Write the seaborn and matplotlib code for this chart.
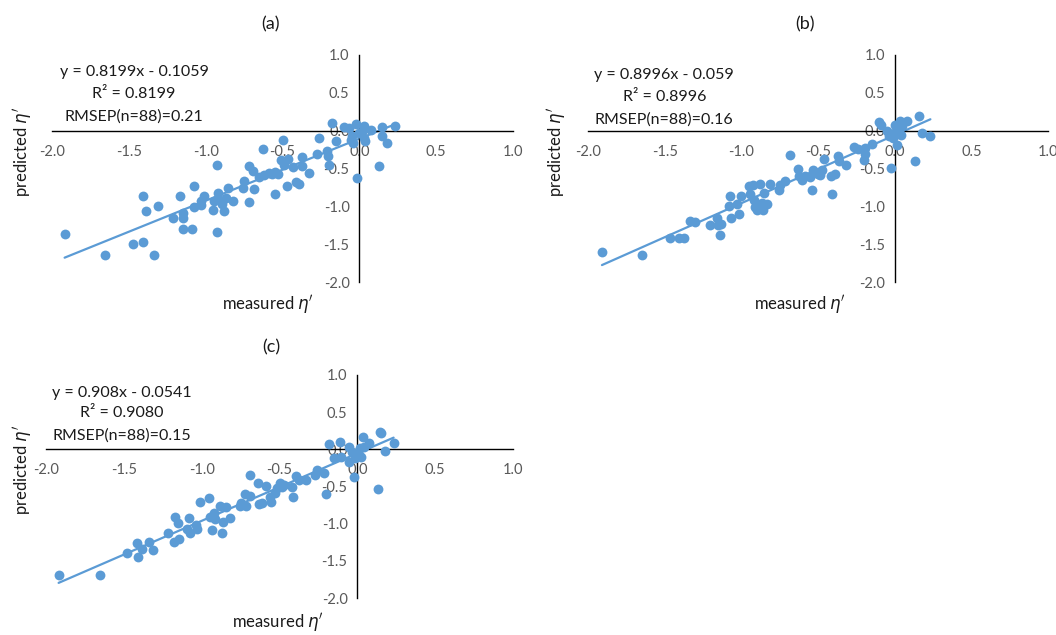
import numpy as np
import matplotlib
matplotlib.use("Agg")
import matplotlib.pyplot as plt
from matplotlib.ticker import FormatStrFormatter, MultipleLocator
import seaborn as sns

# panel (a) measured vs predicted
a_x = [-1.918, -1.652, -1.474, -1.409, -1.409, -1.387, -1.339, -1.311, -1.214, -1.166,
       -1.149, -1.149, -1.149, -1.090, -1.079, -1.073, -1.029, -1.008, -1.029, -0.954,
       -0.943, -0.928, -0.925, -0.921, -0.910, -0.893, -0.878, -0.867, -0.856, -0.824,
       -0.759, -0.748, -0.720, -0.715, -0.689, -0.687, -0.650, -0.629, -0.618, -0.590,
       -0.568, -0.546, -0.546, -0.531, -0.509, -0.494, -0.488, -0.470, -0.466, -0.433,
       -0.412, -0.394, -0.373, -0.373, -0.325, -0.275, -0.260, -0.210, -0.206, -0.199,
       -0.180, -0.152, -0.098, -0.054, -0.048, -0.065, -0.022, -0.015, 0.000, 0.022,
       0.028, 0.039, 0.033, 0.076, 0.130, 0.147, 0.147, 0.178, 0.234, -0.043]
a_y = [-1.363, -1.641, -1.495, -1.473, -0.860, -1.059, -1.641, -1.001, -1.156, -0.869,
       -1.089, -1.156, -1.296, -1.296, -0.736, -1.010, -0.935, -0.860, -0.988, -1.045,
       -0.935, -1.340, -0.450, -0.825, -0.913, -0.966, -1.059, -0.891, -0.758, -0.935,
       -0.758, -0.670, -0.944, -0.472, -0.538, -0.772, -0.617, -0.243, -0.582, -0.560,
       -0.569, -0.547, -0.838, -0.573, -0.384, -0.123, -0.450, -0.728, -0.375, -0.485,
       -0.679, -0.701, -0.344, -0.472, -0.560, -0.309, -0.097, -0.273, -0.340, -0.450,
       0.101, -0.141, 0.044, -0.119, -0.075, 0.035, 0.088, -0.626, -0.031, 0.013,
       -0.097, -0.132, 0.057, 0.013, -0.472, 0.044, -0.075, -0.163, 0.057, -0.163]

# panel (b)
b_x = [-1.909, -1.648, -1.463, -1.409, -1.372, -1.333, -1.300, -1.207, -1.159, -1.154,
       -1.141, -1.133, -1.083, -1.072, -1.067, -1.028, -1.017, -1.002, -0.952, -0.946,
       -0.924, -0.920, -0.909, -0.898, -0.876, -0.865, -0.859, -0.854, -0.833, -0.815,
       -0.757, -0.746, -0.713, -0.685, -0.630, -0.626, -0.604, -0.583, -0.554, -0.539,
       -0.533, -0.502, -0.489, -0.474, -0.463, -0.415, -0.409, -0.387, -0.372, -0.365,
       -0.315, -0.267, -0.239, -0.202, -0.196, -0.191, -0.148, -0.104, -0.089, -0.050,
       -0.039, -0.022, -0.011, 0.004, 0.015, 0.026, 0.037, 0.041, 0.080, 0.130,
       0.157, 0.178, 0.233, 0.048, -0.007]
b_y = [-1.597, -1.641, -1.420, -1.420, -1.412, -1.200, -1.209, -1.253, -1.156, -1.253,
       -1.385, -1.235, -1.001, -0.869, -1.156, -0.966, -1.098, -0.869, -0.736, -0.838,
       -0.715, -0.913, -1.015, -1.045, -0.706, -0.957, -1.054, -0.825, -0.966, -0.706,
       -0.781, -0.715, -0.662, -0.318, -0.507, -0.595, -0.648, -0.595, -0.617, -0.781,
       -0.516, -0.573, -0.591, -0.516, -0.371, -0.604, -0.834, -0.573, -0.340, -0.406,
       -0.450, -0.221, -0.238, -0.384, -0.229, -0.309, -0.176, 0.115, 0.071, 0.000,
       -0.075, -0.494, -0.097, 0.079, -0.185, 0.000, 0.124, -0.053, 0.132, -0.406,
       0.190, -0.031, -0.075, 0.057, -0.031]

# panel (c)
c_x = [-1.919, -1.655, -1.480, -1.415, -1.411, -1.383, -1.340, -1.313, -1.218, -1.169,
       -1.176, -1.154, -1.148, -1.094, -1.084, -1.077, -1.036, -1.030, -1.013, -0.955,
       -0.944, -0.934, -0.923, -0.912, -0.884, -0.869, -0.863, -0.842, -0.820, -0.756,
       -0.748, -0.719, -0.713, -0.692, -0.687, -0.638, -0.634, -0.612, -0.585, -0.563,
       -0.555, -0.527, -0.516, -0.499, -0.484, -0.469, -0.420, -0.415, -0.394, -0.377,
       -0.328, -0.270, -0.259, -0.212, -0.199, -0.180, -0.148, -0.109, -0.103, -0.056,
       -0.051, -0.019, -0.013, 0.009, 0.015, 0.024, 0.036, 0.073, 0.131, 0.148,
       0.152, 0.180, 0.233, 0.041, -0.034]
c_y = [-1.688, -1.688, -1.388, -1.263, -1.442, -1.343, -1.240, -1.352, -1.120, -0.905,
       -1.240, -0.985, -1.209, -1.075, -0.927, -1.120, -1.017, -1.075, -0.703, -0.658,
       -0.914, -1.084, -0.851, -0.940, -0.761, -1.120, -0.972, -0.770, -0.927, -0.761,
       -0.717, -0.600, -0.761, -0.349, -0.627, -0.457, -0.739, -0.717, -0.493, -0.636,
       -0.703, -0.591, -0.524, -0.448, -0.502, -0.479, -0.502, -0.636, -0.358, -0.412,
       -0.412, -0.345, -0.278, -0.313, -0.600, 0.067, -0.121, 0.103, -0.099, 0.027,
       -0.166, -0.367, -0.121, -0.076, 0.013, -0.099, 0.170, 0.090, -0.537, 0.237,
       0.215, -0.018, 0.081, 0.027, -0.031]

panel_names = ["(a)", "(b)", "(c)"]
slopes = [0.8199, 0.8996, 0.908]
intercepts = [-0.1059, -0.059, -0.0541]
eq_texts = ["y = 0.8199x - 0.1059", "y = 0.8996x - 0.059", "y = 0.908x - 0.0541"]
r2_texts = ["R² = 0.8199", "R² = 0.8996", "R² = 0.9080"]
rmsep_texts = ["RMSEP(n=88)=0.21", "RMSEP(n=88)=0.16", "RMSEP(n=88)=0.15"]

sns.set_style("white")
plt.rcParams['font.family'] = ['Lato', 'DejaVu Sans']
plt.rcParams['mathtext.fontset'] = 'dejavusans'

blue = "#5B9BD5"
W, H = 1056, 635
fig = plt.figure(figsize=(W / 100, H / 100), dpi=100)

# pixel boxes of each plot area: x(-2), x(1), y(1), y(-2)
boxes = [(52, 513, 55, 282), (588, 1048, 55, 282), (46, 513, 375, 598)]
titles_px = [(271, 24), (805, 24), (271, 347)]
ylab_px = [(22, 152), (557, 152), (22, 470)]
xlab_px = [(268, 304), (800, 304), (278, 623)]
text_pos = [(0.178, [0.926, 0.828, 0.731]), (0.166, [0.912, 0.816, 0.717]),
            (0.162, [0.921, 0.828, 0.727])]

data = [(a_x, a_y), (b_x, b_y), (c_x, c_y)]

for i, (xs, ys) in enumerate(data):
    x0, x1, y0, y1 = boxes[i]
    ax = fig.add_axes([x0 / W, 1 - y1 / H, (x1 - x0) / W, (y1 - y0) / H])
    sns.scatterplot(x=xs, y=ys, ax=ax, color=blue, s=50, edgecolor=blue, linewidth=0, zorder=3)
    # trendline from the stated fit
    lx = np.array([min(xs), max(xs)])
    sns.lineplot(x=lx, y=slopes[i] * lx + intercepts[i], ax=ax, color=blue, linewidth=1.6, zorder=2)
    ax.set_xlim(-2, 1)
    ax.set_ylim(-2, 1)
    ax.xaxis.set_major_locator(MultipleLocator(0.5))
    ax.yaxis.set_major_locator(MultipleLocator(0.5))
    ax.xaxis.set_major_formatter(FormatStrFormatter('%.1f'))
    ax.yaxis.set_major_formatter(FormatStrFormatter('%.1f'))
    for s in ['top', 'right']:
        ax.spines[s].set_visible(False)
    ax.spines['left'].set_position(('data', 0))
    ax.spines['bottom'].set_position(('data', 0))
    ax.spines['left'].set_color('black')
    ax.spines['bottom'].set_color('black')
    ax.spines['left'].set_linewidth(1.0)
    ax.spines['bottom'].set_linewidth(1.0)
    ax.tick_params(axis='x', length=0, pad=10, labelsize=10.5, labelcolor='#595959')
    ax.tick_params(axis='y', length=0, pad=7, labelsize=10.5, labelcolor='#595959')
    ax.set_xlabel("")
    ax.set_ylabel("")
    ax.patch.set_alpha(0)

    tx, tys = text_pos[i]
    for txt, ty in zip([eq_texts[i], r2_texts[i], rmsep_texts[i]], tys):
        ax.text(tx, ty, txt, transform=ax.transAxes, ha='center', va='center',
                fontsize=11.5, color='#1a1a1a')

    px, py = titles_px[i]
    fig.text(px / W, 1 - py / H, panel_names[i], ha='center', va='center', fontsize=13, color='#1a1a1a')
    px, py = ylab_px[i]
    fig.text(px / W, 1 - py / H, r"predicted $\eta'$", rotation=90, ha='center', va='center',
             fontsize=12, color='#1a1a1a')
    px, py = xlab_px[i]
    fig.text(px / W, 1 - py / H, r"measured $\eta'$", ha='center', va='center',
             fontsize=12, color='#1a1a1a')

fig.savefig("out.png", dpi=100)
